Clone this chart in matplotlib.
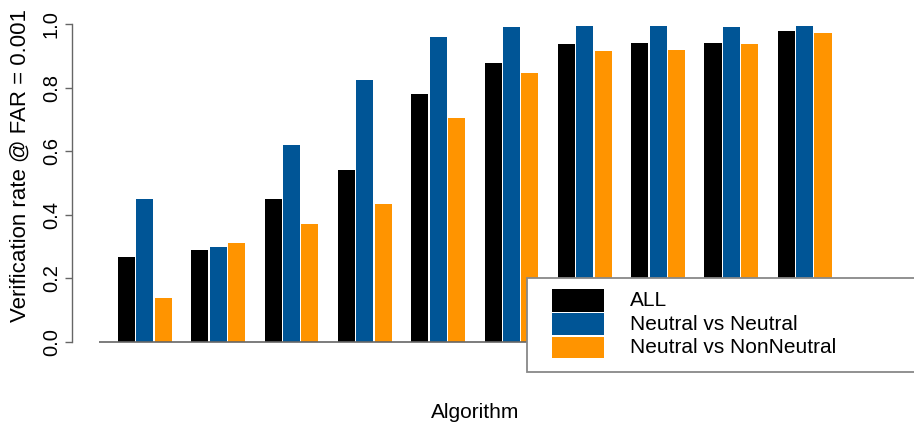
import matplotlib
matplotlib.use("Agg")
import matplotlib.pyplot as plt
from matplotlib.patches import Rectangle
import numpy as np

plt.rcParams['font.family'] = ['Liberation Sans', 'DejaVu Sans']

# Verification rate per algorithm (10 algorithms) for each protocol
series_names = ["ALL", "Neutral vs Neutral", "Neutral vs NonNeutral"]
all_vals = [0.266, 0.289, 0.449, 0.541, 0.780, 0.878, 0.937, 0.939, 0.941, 0.977]
neutral_vals = [0.449, 0.298, 0.620, 0.824, 0.959, 0.989, 0.994, 0.994, 0.992, 0.994]
nonneutral_vals = [0.138, 0.311, 0.372, 0.434, 0.704, 0.847, 0.914, 0.918, 0.937, 0.973]
colors = ["#000000", "#005596", "#FF9400"]
y_ticks = [0.0, 0.2, 0.4, 0.6, 0.8, 1.0]
y_tick_labels = ["0.0", "0.2", "0.4", "0.6", "0.8", "1.0"]

W, H = 914, 423
fig = plt.figure(figsize=(W / 100, H / 100), dpi=100)

def px_rect(x0, y0, x1, y1):
    # figure-fraction rectangle from pixel coordinates (origin top-left)
    return [x0 / W, 1 - y1 / H, (x1 - x0) / W, (y1 - y0) / H]

ax = fig.add_axes(px_rect(72, 10, 880, 355))
ax.set_xlim(-1.473, 42.61)
ax.set_ylim(-0.0409, 1.044)

n = len(all_vals)
groups = np.arange(n)
for j, vals in enumerate([all_vals, neutral_vals, nonneutral_vals]):
    x = 1 + 4 * groups + j + 0.5
    ax.bar(x, vals, width=0.93, color=colors[j], edgecolor="none")

# baseline under the bars
ax.plot([0, 4 * n + 1], [0, 0], color="#666666", lw=1.2, solid_capstyle="butt")

for s in ["top", "right", "bottom"]:
    ax.spines[s].set_visible(False)
ax.spines["left"].set_bounds(0, 1)
ax.spines["left"].set_color("#666666")
ax.spines["left"].set_linewidth(1.0)
ax.set_xticks([])
ax.set_yticks(y_ticks)
ax.set_yticklabels(y_tick_labels, rotation=90, va="center", fontsize=14.5)
ax.tick_params(axis="y", length=5, width=1.0, color="#666666", pad=3)

fig.text(20 / W, 1 - 165 / H, "Verification rate @ FAR = 0.001", rotation=90,
         ha="center", va="center", fontsize=16)
fig.text(475 / W, 1 - 412 / H, "Algorithm", ha="center", va="center", fontsize=15)

# legend box
fig.patches.append(Rectangle((527 / W, 1 - 372 / H), (925 - 527) / W, (372 - 278) / H,
                             transform=fig.transFigure, facecolor="white",
                             edgecolor="#888888", lw=1.3, zorder=5))
rows = [(289, 312), (313, 335), (337, 358)]
for (y0, y1), name, c in zip(rows, series_names, colors):
    fig.patches.append(Rectangle((552 / W, 1 - y1 / H), (604 - 552) / W, (y1 - y0) / H,
                                 transform=fig.transFigure, facecolor=c,
                                 edgecolor="none", zorder=6))
    fig.text(630 / W, 1 - ((y0 + y1) / 2) / H, name, ha="left", va="center",
             fontsize=15, zorder=7)

fig.savefig("out.png", dpi=100)
